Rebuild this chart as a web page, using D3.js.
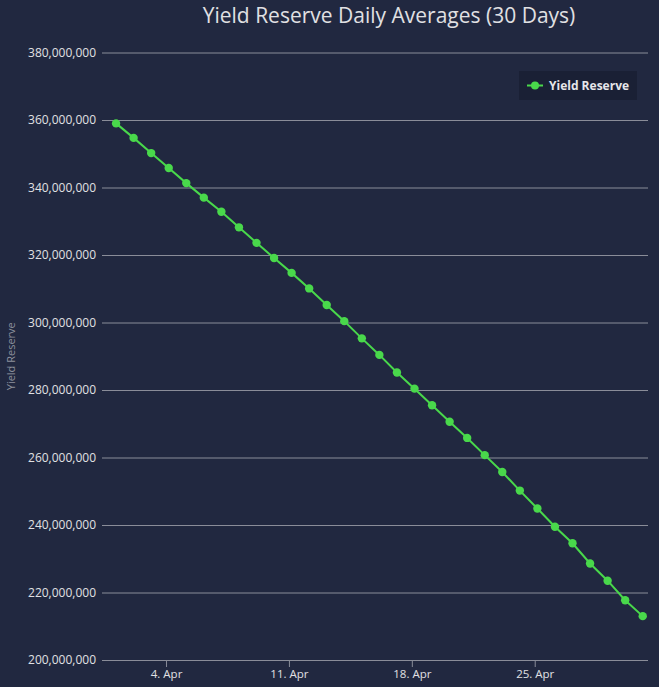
<!DOCTYPE html>
<html><head><meta charset="utf-8">
<script src="https://cdn.jsdelivr.net/npm/d3@7"></script>
<style>
html,body{margin:0;padding:0;background:#212840;}
svg{display:block;}
</style></head>
<body>
<script>
const chartTitle = "Yield Reserve Daily Averages (30 Days)";
const seriesName = "Yield Reserve";
const startDate = "2023-04-01T03:40:00Z";
const values = [359.0,354.7,350.2,345.8,341.3,337.0,332.8,328.2,323.6,319.1,
  314.7,310.1,305.2,300.4,295.3,290.4,285.2,280.4,275.5,270.6,
  265.8,260.7,255.7,250.2,244.9,239.5,234.6,228.6,223.5,217.7,213.0].map(v=>v*1e6);
const yTicks = [200e6,220e6,240e6,260e6,280e6,300e6,320e6,340e6,360e6,380e6];
const xTickDates = ["2023-04-04","2023-04-11","2023-04-18","2023-04-25"];

const W=659,H=687;
const margin={left:102,right:11,top:52.5,bottom:27};
const svg=d3.select("body").append("svg").attr("width",W).attr("height",H);
svg.append("rect").attr("width",W).attr("height",H).attr("fill","#212840");

const t0=new Date(startDate);
const data=values.map((v,i)=>({d:new Date(t0.getTime()+i*864e5),v}));
const x=d3.scaleTime().domain([new Date(t0.getTime()-0.8*864e5), new Date(t0.getTime()+30.3*864e5)]).range([margin.left,W-margin.right]);
const y=d3.scaleLinear().domain([200e6,380e6]).range([H-margin.bottom,margin.top]);

const fmt=d3.format(",");
const yAxis=d3.axisLeft(y).tickValues(yTicks).tickSize(-(W-margin.left-margin.right)).tickPadding(6).tickFormat(fmt);
const gy=svg.append("g").attr("transform",`translate(${margin.left},0)`).call(yAxis);
gy.select(".domain").remove();
gy.selectAll(".tick line").attr("stroke","#8a8d99").attr("stroke-width",1);
gy.selectAll(".tick text").attr("fill","#e0e0e3").attr("font-family","Open Sans, sans-serif").attr("font-size","12px");

const xAxis=d3.axisBottom(x).tickValues(xTickDates.map(s=>new Date(s+"T00:00:00Z"))).tickSize(7).tickPadding(3)
  .tickFormat(d=>d.getUTCDate()+". "+["Jan","Feb","Mar","Apr","May","Jun","Jul","Aug","Sep","Oct","Nov","Dec"][d.getUTCMonth()]);
const gx=svg.append("g").attr("transform",`translate(0,${H-margin.bottom})`).call(xAxis);
gx.select(".domain").remove();
gx.selectAll(".tick line").attr("stroke","#8a8d99");
gx.selectAll(".tick text").attr("fill","#e0e0e3").attr("font-family","Open Sans, sans-serif").attr("font-size","11.5px");

svg.append("text").attr("transform",`translate(15,${(margin.top+H-margin.bottom)/2}) rotate(-90)`)
  .attr("text-anchor","middle").attr("fill","#8c909c").attr("font-family","Open Sans, sans-serif").attr("font-size","11px").text(seriesName);

svg.append("text").attr("x",389).attr("y",23).attr("text-anchor","middle").attr("fill","#e0e0e3")
  .attr("font-family","Open Sans, sans-serif").attr("font-size","21px").text(chartTitle);

const green="#49d84b";
svg.append("path").datum(data).attr("fill","none").attr("stroke",green).attr("stroke-width",2)
  .attr("d",d3.line().x(d=>x(d.d)).y(d=>y(d.v)));
svg.selectAll("circle.pt").data(data).join("circle").attr("class","pt")
  .attr("cx",d=>x(d.d)).attr("cy",d=>y(d.v)).attr("r",4.2).attr("fill",green);

const lg=svg.append("g");
lg.append("rect").attr("x",519).attr("y",71).attr("width",118).attr("height",29).attr("fill","#1a2035");
lg.append("line").attr("x1",527).attr("x2",543).attr("y1",85.5).attr("y2",85.5).attr("stroke",green).attr("stroke-width",2);
lg.append("circle").attr("cx",535).attr("cy",85.5).attr("r",4).attr("fill",green);
lg.append("text").attr("x",549).attr("y",89.5).attr("fill","#e6e6ea").attr("font-family","Open Sans, sans-serif")
  .attr("font-weight","bold").attr("font-size","12px").text(seriesName);
</script>
</body></html>
